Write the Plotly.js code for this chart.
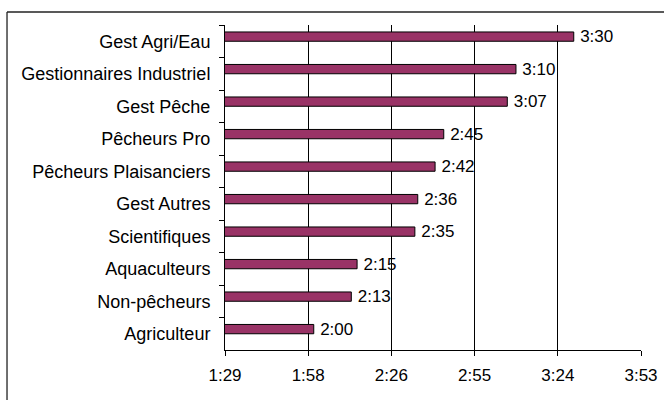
<!DOCTYPE html>
<html><head><meta charset="utf-8">
<script src="https://cdn.plot.ly/plotly-3.0.1.min.js"></script>
<style>html,body{margin:0;padding:0;background:#fff}#chart{width:664px;height:400px}</style>
</head><body><div id="chart"></div>
<script>
// Categories (top to bottom) and durations in minutes
const categories = ["Gest Agri/Eau","Gestionnaires Industriel","Gest Pêche","Pêcheurs Pro","Pêcheurs Plaisanciers","Gest Autres","Scientifiques","Aquaculteurs","Non-pêcheurs","Agriculteur"];
const minutes = [210,190,187,165,162,156,155,135,133,120];
// X axis ticks (minutes) and their labels
const tickMinutes = [89.28,118.08,146.88,175.68,204.48,233.28];
const tickLabels = ["1:29","1:58","2:26","2:55","3:24","3:53"];

function fmt(m){const h=Math.floor(m/60);const mm=Math.round(m-h*60);return "\u2009"+h+":"+(mm<10?"0":"")+mm;}
const font = "Liberation Sans, Arial, sans-serif";

const trace = {
  type:"bar", orientation:"h",
  x: minutes, y: categories,
  width: 0.286, offset: -0.286,
  marker:{color:"#993366", line:{color:"#000", width:1}},
  text: minutes.map(fmt), textposition:"outside", constraintext:"none",
  cliponaxis:false,
  textfont:{family:font, size:17, color:"#000"},
  hoverinfo:"none"
};
const frame = {color:"#222", width:1.3};
const layout = {
  width:664, height:400,
  margin:{l:225, r:23, t:25, b:50},
  paper_bgcolor:"#fff", plot_bgcolor:"#fff",
  showlegend:false,
  font:{family:font, color:"#000"},
  xaxis:{range:[tickMinutes[0], tickMinutes[tickMinutes.length-1]], tickmode:"array",
    tickvals:tickMinutes, ticktext:tickLabels, showgrid:true, gridcolor:"#000", gridwidth:1,
    zeroline:false, showline:true, linecolor:"#000", linewidth:1,
    ticks:"outside", ticklen:5, tickcolor:"#000", ticklabelstandoff:5,
    tickfont:{family:font, size:17, color:"#000"}},
  yaxis:{type:"category", autorange:"reversed", showgrid:false, showline:true, linecolor:"#000", linewidth:1,
    ticks:"outside", ticklen:5, tickcolor:"#000", tickson:"boundaries", ticklabelstandoff:10,
    tickfont:{family:font, size:18, color:"#000"}},
  shapes:[
    {type:"line", xref:"paper", yref:"paper", x0:-0.524, x1:1.2, y0:1.04, y1:1.04, line:frame, layer:"below"},
    {type:"line", xref:"paper", yref:"paper", x0:-0.524, x1:-0.524, y0:-0.5, y1:1.04, line:frame, layer:"below"}
  ]
};
Plotly.newPlot("chart",[trace],layout,{staticPlot:true, displayModeBar:false});
</script></body></html>
